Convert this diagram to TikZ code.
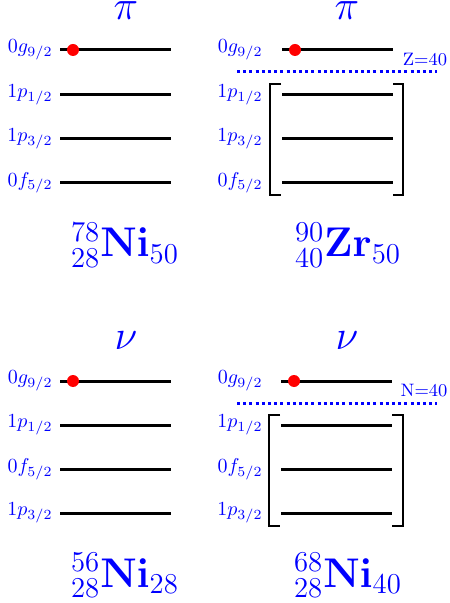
\documentclass[tikz,border=0pt]{standalone}
\usepackage{amsmath}
\usetikzlibrary{positioning}
\begin{document}
\begin{tikzpicture}[
  x=0.5pt, y=-0.5pt,
  level/.style={line width=1.5pt},
  bracket/.style={line width=1.3pt},
  gapline/.style={blue, line width=1.5pt, dash pattern=on 1.5pt off 1.6pt},
  orb/.style={anchor=east, text=blue, inner sep=0pt},
  head/.style={text=blue, font=\huge, anchor=base, inner sep=0pt},
  nucl/.style={text=blue, font=\huge, anchor=base, inner sep=0pt},
  shell/.style={text=blue, font=\small, anchor=base, inner sep=0pt},
  part/.style={circle, fill=red, inner sep=0pt, minimum size=6pt}
]
\useasboundingbox (0,0) rectangle (449,603);

% protons, 78Ni
\node[head] (piNi) at (126,20) {$\pi$};
\node[orb] (piNiG) at (53,50) {$0g_{9/2}$};
\node[orb] (piNiPa) at (53,95) {$1p_{1/2}$};
\node[orb] (piNiPb) at (53,139) {$1p_{3/2}$};
\node[orb] (piNiF) at (53,183) {$0f_{5/2}$};
\draw[level] (60,50) -- (171,50);
\draw[level] (60,95) -- (171,95);
\draw[level] (60,139) -- (171,139);
\draw[level] (60,183) -- (171,183);
\node[part] (piNiDot) at (73,50) {};
\node[nucl] (ni78) at (125,257) {${}^{78}_{28}\mathbf{Ni}_{50}$};

% protons, 90Zr
\node[head] (piZr) at (347,20) {$\pi$};
\node[orb] (piZrG) at (263,50) {$0g_{9/2}$};
\node[orb] (piZrPa) at (263,95) {$1p_{1/2}$};
\node[orb] (piZrPb) at (263,139) {$1p_{3/2}$};
\node[orb] (piZrF) at (263,183) {$0f_{5/2}$};
\draw[level] (282,50) -- (393,50);
\draw[level] (282,95) -- (393,95);
\draw[level] (282,139) -- (393,139);
\draw[level] (282,183) -- (393,183);
\node[part] (piZrDot) at (295,50) {};
\draw[gapline] (237,72) -- (437,72);
\node[shell] (zShell) at (425,66) {Z=40};
\draw[bracket] (281,84) -- (270,84) -- (270,195) -- (281,195);
\draw[bracket] (393,84) -- (403,84) -- (403,195) -- (393,195);
\node[nucl] (zr90) at (348,257) {${}^{90}_{40}\mathbf{Zr}_{50}$};

% neutrons, 56Ni
\node[head] (nuNi) at (126,350) {$\nu$};
\node[orb] (nuNiG) at (53,381) {$0g_{9/2}$};
\node[orb] (nuNiPa) at (53,425) {$1p_{1/2}$};
\node[orb] (nuNiF) at (53,469) {$0f_{5/2}$};
\node[orb] (nuNiPb) at (53,513) {$1p_{3/2}$};
\draw[level] (60,381) -- (171,381);
\draw[level] (60,425) -- (171,425);
\draw[level] (60,469) -- (171,469);
\draw[level] (60,513) -- (171,513);
\node[part] (nuNiDot) at (73,381) {};
\node[nucl] (ni56) at (125,587) {${}^{56}_{28}\mathbf{Ni}_{28}$};

% neutrons, 68Ni
\node[head] (nuNiB) at (347,350) {$\nu$};
\node[orb] (nuNiBG) at (263,381) {$0g_{9/2}$};
\node[orb] (nuNiBPa) at (263,425) {$1p_{1/2}$};
\node[orb] (nuNiBF) at (263,469) {$0f_{5/2}$};
\node[orb] (nuNiBPb) at (263,513) {$1p_{3/2}$};
\draw[level] (281,381) -- (392,381);
\draw[level] (281,425) -- (392,425);
\draw[level] (281,469) -- (392,469);
\draw[level] (281,513) -- (392,513);
\node[part] (nuNiBDot) at (294,381) {};
\draw[gapline] (237,403) -- (437,403);
\node[shell] (nShell) at (424,396) {N=40};
\draw[bracket] (280,415) -- (269,415) -- (269,526) -- (280,526);
\draw[bracket] (392,415) -- (403,415) -- (403,526) -- (392,526);
\node[nucl] (ni68) at (348,587) {${}^{68}_{28}\mathbf{Ni}_{40}$};
\end{tikzpicture}
\end{document}
